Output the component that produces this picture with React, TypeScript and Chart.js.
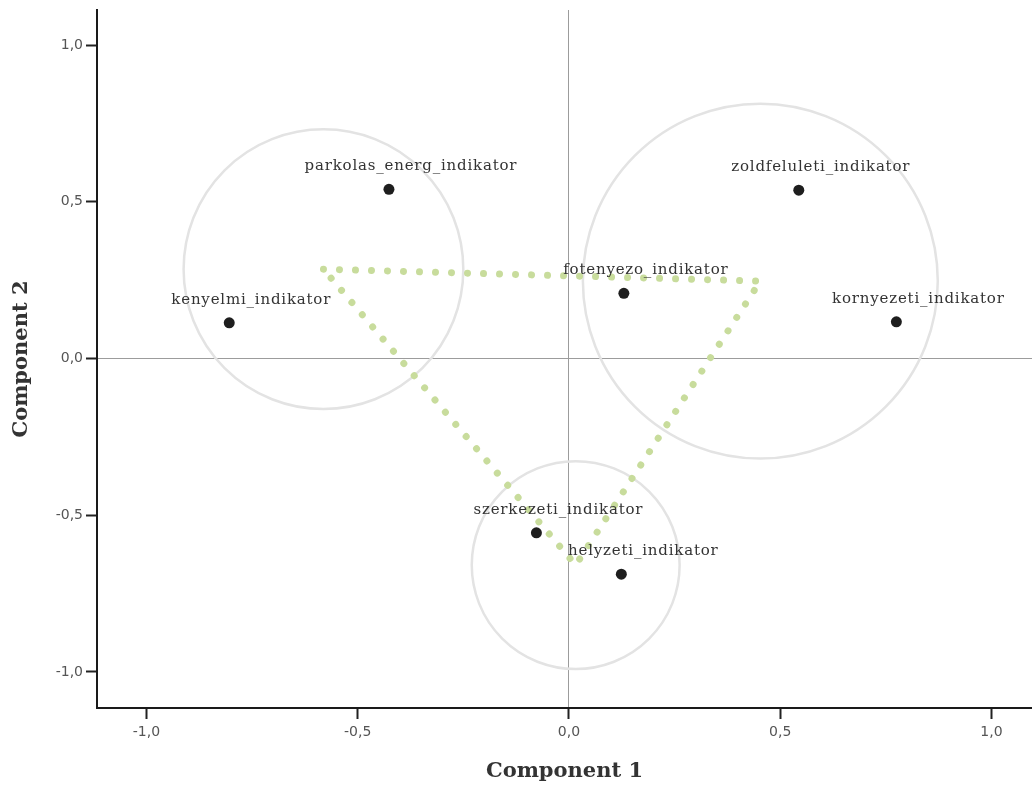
import React, { useEffect, useRef } from "react";
import { Chart, registerables } from "chart.js";

Chart.register(...registerables);

// ---- data ----
const variableNames = [
  "parkolas_energ_indikator",
  "kenyelmi_indikator",
  "fotenyezo_indikator",
  "zoldfeluleti_indikator",
  "kornyezeti_indikator",
  "szerkezeti_indikator",
  "helyzeti_indikator",
];
const component1 = [-0.426, -0.804, 0.13, 0.544, 0.775, -0.077, 0.124];
const component2 = [0.54, 0.114, 0.208, 0.537, 0.117, -0.556, -0.688];

// cluster circles (centres and radius in Component 1 units)
const clusterCenterX = [-0.581, 0.453, 0.016];
const clusterCenterY = [0.285, 0.247, -0.659];
const clusterRadius = [0.331, 0.42, 0.246];
const triangleOrder = [0, 1, 2, 0];

const axisMinX = -1.117;
const axisMaxX = 1.096;
const axisMinY = -1.115;
const axisMaxY = 1.112;
const tickStep = 0.5;

const fmt = (v: number) => v.toFixed(1).replace(".", ",");

const circlesPlugin = {
  id: "clusterCircles",
  beforeDatasetsDraw(chart: any) {
    const { ctx, scales } = chart;
    const xs = scales.x;
    const ys = scales.y;
    ctx.save();
    ctx.strokeStyle = "#e3e3e3";
    ctx.lineWidth = 2.5;
    clusterCenterX.forEach((cx, i) => {
      const px = xs.getPixelForValue(cx);
      const py = ys.getPixelForValue(clusterCenterY[i]);
      const r = xs.getPixelForValue(cx + clusterRadius[i]) - px;
      ctx.beginPath();
      ctx.arc(px, py, r, 0, Math.PI * 2);
      ctx.stroke();
    });
    ctx.restore();
  },
};

const labelsPlugin = {
  id: "pointLabels",
  afterDatasetsDraw(chart: any) {
    const { ctx } = chart;
    const meta = chart.getDatasetMeta(1);
    ctx.save();
    ctx.font = '15px "DejaVu Serif"';
    (ctx as any).letterSpacing = "0.8px";
    ctx.fillStyle = "#333333";
    ctx.textAlign = "center";
    ctx.textBaseline = "middle";
    meta.data.forEach((el: any, i: number) => {
      ctx.fillText(variableNames[i], el.x + 22, el.y - 23);
    });
    ctx.restore();
  },
};

export default function App() {
  const ref = useRef<HTMLCanvasElement | null>(null);

  useEffect(() => {
    if (!ref.current) return;
    const gridColor = (c: any) =>
      c.tick && c.tick.value === 0 ? "#9c9c9c" : "rgba(0,0,0,0)";
    const chart = new Chart(ref.current, {
      type: "scatter",
      data: {
        datasets: [
          {
            type: "line",
            label: "triangle",
            data: triangleOrder.map((k) => ({ x: clusterCenterX[k], y: clusterCenterY[k] })),
            borderColor: "#c8dc9c",
            borderWidth: 7,
            borderDash: [0.01, 16],
            borderCapStyle: "round",
            pointRadius: 0,
            fill: false,
            tension: 0,
          } as any,
          {
            label: "loadings",
            data: component1.map((x, i) => ({ x, y: component2[i] })),
            backgroundColor: "#1e1e1e",
            borderWidth: 0,
            pointRadius: 5.5,
          },
        ],
      },
      options: {
        responsive: false,
        animation: false,
        layout: { autoPadding: false, padding: { top: 10, left: 0, right: 0, bottom: 0 } },
        plugins: { legend: { display: false }, tooltip: { enabled: false } },
        scales: {
          x: {
            type: "linear",
            position: "bottom",
            min: axisMinX,
            max: axisMaxX,
            afterFit: (s: any) => {
              s.height = 81;
              s.paddingLeft = 0;
              s.paddingRight = 0;
            },
            border: { display: true, color: "#1a1a1a", width: 2 },
            grid: {
              drawOnChartArea: true,
              drawTicks: true,
              color: gridColor,
              lineWidth: 1,
              tickColor: "#222",
              tickWidth: 2,
              tickLength: 11,
            },
            ticks: {
              stepSize: tickStep,
              includeBounds: false,
              padding: 5,
              color: "#555",
              font: { family: "DejaVu Sans", size: 14 },
              callback: (v: any) => fmt(Number(v)),
            },
            title: {
              display: true,
              text: "Component 1",
              color: "#333",
              font: { family: "DejaVu Serif", size: 21, weight: "bold" },
              padding: { top: 0, bottom: 5 },
            },
          },
          y: {
            type: "linear",
            min: axisMinY,
            max: axisMaxY,
            afterFit: (s: any) => {
              s.width = 97;
              s.paddingTop = 0;
              s.paddingBottom = 0;
            },
            border: { display: true, color: "#1a1a1a", width: 2 },
            grid: {
              drawOnChartArea: true,
              drawTicks: true,
              color: gridColor,
              lineWidth: 1,
              tickColor: "#222",
              tickWidth: 2,
              tickLength: 11,
            },
            ticks: {
              stepSize: tickStep,
              includeBounds: false,
              padding: 3,
              color: "#555",
              font: { family: "DejaVu Sans", size: 14 },
              callback: (v: any) => fmt(Number(v)),
            },
            title: {
              display: true,
              text: "Component 2",
              color: "#333",
              font: { family: "DejaVu Serif", size: 21, weight: "bold" },
              padding: { top: 9, bottom: 0 },
            },
          },
        },
      } as any,
      plugins: [circlesPlugin, labelsPlugin],
    });
    return () => chart.destroy();
  }, []);

  return (
    <div style={{ position: "fixed", left: 0, top: 0, width: 1032, height: 789, background: "#fff" }}>
      <canvas ref={ref} width={1032} height={789} style={{ display: "block" }} />
    </div>
  );
}
